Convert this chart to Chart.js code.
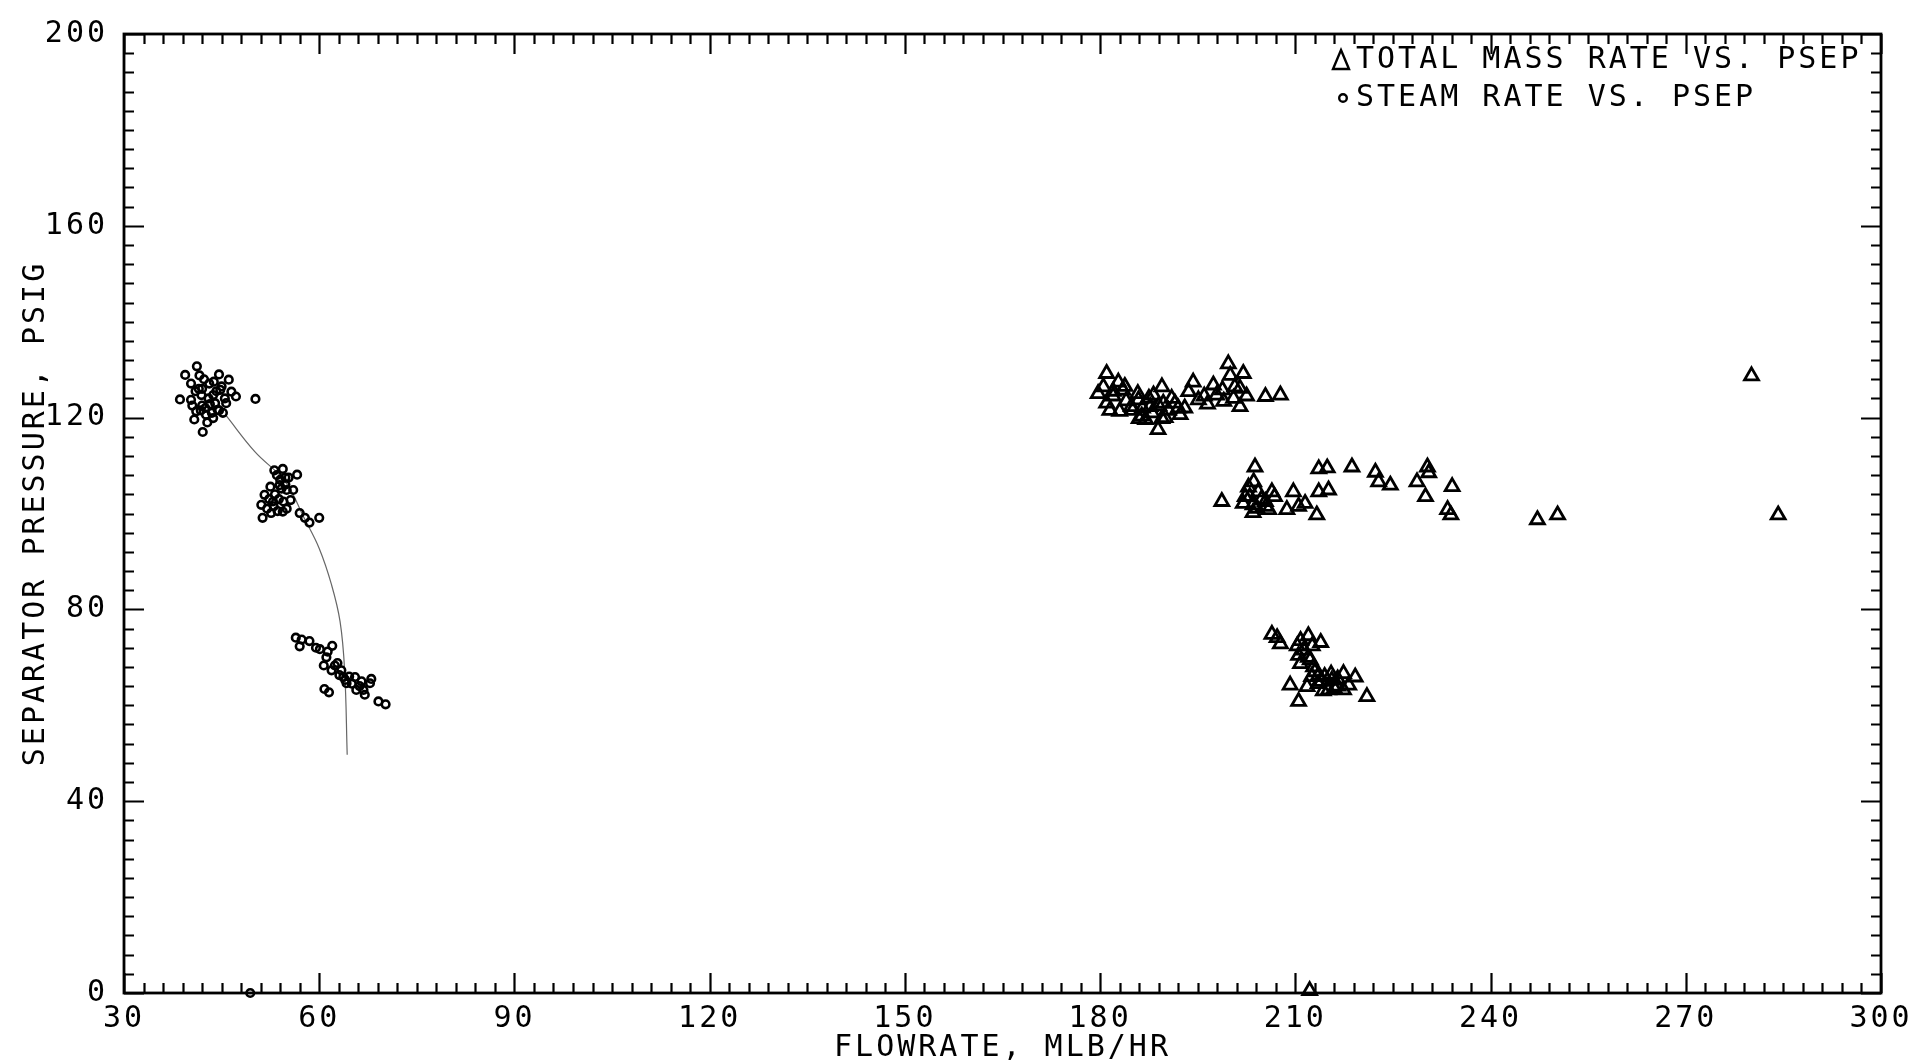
<!DOCTYPE html>
<html>
<head>
<meta charset="utf-8">
<script src="https://cdn.jsdelivr.net/npm/chart.js@4.4.1/dist/chart.umd.min.js"></script>
<style>
  html, body { margin: 0; padding: 0; background: #fff; }
  canvas { display: block; }
</style>
</head>
<body>
<canvas id="chart" width="1930" height="1063"></canvas>
<script>
// steam rate vs. psep (circles)
const steamFlow = [41.2, 39.4, 41.6, 44.6, 46.1, 40.3, 43.1, 38.6, 40.3, 41.9, 43.7, 45.7, 47.2, 46.5, 50.2,
  41.1, 42.6, 40.8, 43.7, 42.1, 44.4, 42.0, 44.8, 45.2, 41.5, 43.2,
  42.5, 43.0, 42.0, 43.5, 44.0, 42.8, 41.8, 44.2, 45.0, 43.8, 42.3, 41.0, 40.5, 45.5, 44.6,
  53.1, 54.4, 56.6, 52.5, 53.9, 55.0, 56.0, 55.6, 51.6, 51.1, 52.9, 54.4, 51.3, 52.6, 57.0, 57.8, 58.5, 60.0, 55.0, 54.8,
  53.5, 54.0, 53.2, 53.8, 54.5, 53.0, 52.0, 54.8, 55.3, 52.3, 53.6, 54.2,
  56.4, 57.0, 58.5, 60.1, 62.0, 61.1, 60.7, 62.4, 61.9, 63.4, 63.7, 64.2, 65.5, 65.7, 66.8, 67.0, 67.8, 68.0, 60.8, 61.5, 69.1, 70.2,
  62.8, 63.1, 64.6, 65.0, 66.2, 66.5, 61.3, 59.5, 57.3, 64.0,
  49.4];
const steamPsep = [130.7, 128.9, 128.8, 129.0, 127.9, 127.1, 127.1, 123.8, 123.7, 124.7, 124.7, 123.0, 124.4, 125.4, 123.9,
  121.3, 120.6, 119.6, 119.9, 117.0, 121.6, 122.5, 125.8, 121.0, 126.0, 122.8,
  122.0, 124.0, 126.0, 121.0, 123.0, 119.0, 121.5, 125.5, 126.5, 127.5, 128.0, 125.5, 122.5, 124.0, 121.5,
  109.0, 109.3, 108.1, 105.6, 105.9, 104.9, 104.9, 102.8, 103.9, 101.8, 102.5, 100.4, 99.1, 100.1, 100.1, 99.1, 98.1, 99.1, 101.0, 107.5,
  108.0, 107.0, 104.0, 103.0, 102.5, 101.5, 101.0, 106.0, 107.5, 103.0, 100.5, 105.2,
  74.1, 72.3, 73.4, 71.7, 72.4, 70.0, 68.3, 68.3, 67.3, 67.3, 65.9, 64.6, 65.9, 63.2, 63.2, 62.2, 64.6, 65.5, 63.4, 62.7, 60.8, 60.2,
  68.8, 66.3, 66.0, 64.5, 64.0, 65.0, 71.2, 72.0, 73.7, 65.3,
  0];

// total mass rate vs. psep (triangles)
const totalFlow = [181.0, 182.8, 180.5, 179.7, 183.5, 181.0, 183.0, 185.9, 186.4, 187.7, 189.5, 189.7, 191.0, 188.9, 192.3,
  192.0, 194.3, 193.6, 195.1, 197.4, 197.9, 199.7, 200.0, 202.0, 200.7, 199.0, 201.5, 201.5, 205.4, 207.7, 184.8, 182.0,
  188.2, 190.0, 187.0,
  182.0, 184.0, 185.0, 186.5, 188.0, 189.0, 190.5, 187.5, 185.8, 183.8, 191.5, 193.0, 181.5, 196.0, 198.8, 200.5, 202.5,
  196.5, 186.0, 189.5,
  203.8, 203.6, 202.3, 204.3, 206.4, 198.7, 202.0, 204.1, 205.9, 203.5, 205.4, 209.7, 208.7, 210.5, 211.5, 213.3, 213.6,
  214.9, 213.6, 215.1, 218.7, 222.3, 222.8, 224.6, 228.7, 230.3, 230.5, 230.0, 234.1, 233.4, 233.9, 247.2, 250.3, 284.2,
  203.0, 204.8, 202.8, 205.5, 206.8, 203.5,
  280.1,
  206.4, 207.2, 207.7, 210.3, 212.0, 213.9, 212.6, 210.5, 212.0, 210.8, 212.8, 213.6, 214.5, 215.6, 217.4, 219.2, 217.4,
  215.1, 214.3, 211.8, 209.2, 210.5, 221.0, 218.2, 216.5,
  211.3, 212.3, 213.0, 214.0, 215.5, 216.5, 213.5, 212.5, 210.8, 216.0,
  212.2];
const totalPsep = [129.2, 127.4, 126.4, 125.0, 125.7, 123.0, 121.3, 123.7, 120.3, 122.3, 126.4, 123.0, 124.0, 117.5, 120.6,
  122.0, 127.4, 125.4, 123.7, 126.8, 124.7, 131.2, 128.8, 129.2, 126.4, 123.4, 122.3, 126.1, 124.4, 124.7, 122.3, 124.5,
  124.7, 120.0, 119.6,
  125.5, 123.5, 121.5, 122.0, 121.0, 122.5, 121.5, 124.0, 125.0, 126.5, 123.0, 122.0, 121.5, 124.5, 125.8, 124.0, 124.5,
  122.8, 119.8, 119.8,
  109.7, 106.6, 103.5, 104.5, 104.5, 102.5, 102.1, 101.1, 100.8, 100.2, 102.5, 104.5, 100.8, 101.5, 102.1, 99.7, 109.3,
  109.5, 104.5, 104.9, 109.7, 108.6, 106.6, 105.9, 106.6, 109.7, 108.5, 103.5, 105.6, 100.8, 99.7, 98.7, 99.7, 99.7,
  103.5, 103.0, 105.5, 101.5, 103.5, 101.8,
  128.7,
  74.8, 74.1, 72.8, 72.4, 74.5, 73.1, 72.4, 70.4, 70.0, 68.7, 68.0, 66.3, 66.0, 65.2, 66.6, 65.9, 63.2,
  63.2, 63.0, 63.9, 64.2, 60.8, 61.8, 64.2, 64.0,
  71.5, 69.5, 67.0, 65.0, 66.5, 65.5, 64.5, 66.0, 73.5, 63.5,
  0.5];

// hand drawn curve through the steam points
const curveFlow = [45.7, 50.1, 54.8, 57.7, 60.0, 61.9, 63.2, 63.9, 64.3];
const curvePsep = [120.4, 112.9, 106.6, 99.0, 92.7, 85.1, 77.5, 67.4, 49.7];

const xTicks = [30, 60, 90, 120, 150, 180, 210, 240, 270, 300];
const yTicks = [0, 40, 80, 120, 160, 200];

const legendLabels = ['TOTAL MASS RATE VS. PSEP', 'STEAM RATE VS. PSEP'];

const FONT = 'DejaVu Sans Mono';

function pts(xs, ys) {
  return xs.map((x, i) => ({ x: x, y: ys[i] }));
}

// box, inward ticks and the legend drawn like the plotter did
const plotterFrame = {
  id: 'plotterFrame',
  beforeDraw(chart) {
    chart.ctx.letterSpacing = '3px';
  },
  afterDraw(chart) {
    const ctx = chart.ctx;
    const a = chart.chartArea;
    const xs = chart.scales.x, ys = chart.scales.y;
    ctx.save();
    ctx.strokeStyle = '#000';
    ctx.lineWidth = 2.2;
    ctx.beginPath();
    for (let v = 30; v <= 300; v += 3) {
      const px = Math.round(xs.getPixelForValue(v)) + 0.5;
      const len = (v % 30 === 0) ? 20 : 10;
      ctx.moveTo(px, a.bottom); ctx.lineTo(px, a.bottom - len);
      ctx.moveTo(px, a.top); ctx.lineTo(px, a.top + len);
    }
    for (let v = 0; v <= 200; v += 4) {
      const py = Math.round(ys.getPixelForValue(v)) + 0.5;
      const len = (v % 40 === 0) ? 20 : 10;
      ctx.moveTo(a.left, py); ctx.lineTo(a.left + len, py);
      ctx.moveTo(a.right, py); ctx.lineTo(a.right - len, py);
    }
    ctx.stroke();
    ctx.lineWidth = 2.8;
    ctx.strokeRect(a.left, a.top, a.right - a.left, a.bottom - a.top);

    // legend
    ctx.font = '30px "' + FONT + '"';
    ctx.letterSpacing = '3px';
    ctx.fillStyle = '#000';
    ctx.textBaseline = 'middle';
    ctx.textAlign = 'left';
    const lx = 1356, ly = [60, 98];
    ctx.fillText(legendLabels[0], lx, ly[0]);
    ctx.fillText(legendLabels[1], lx, ly[1]);
    ctx.lineWidth = 2.4;
    ctx.beginPath();
    ctx.moveTo(1341, ly[0] - 10);
    ctx.lineTo(1349, ly[0] + 9);
    ctx.lineTo(1333, ly[0] + 9);
    ctx.closePath();
    ctx.stroke();
    ctx.beginPath();
    ctx.arc(1343, ly[1], 3.8, 0, Math.PI * 2);
    ctx.stroke();
    ctx.restore();
  }
};

Chart.defaults.color = '#000';
Chart.defaults.font.family = FONT;

new Chart(document.getElementById('chart'), {
  type: 'scatter',
  data: {
    datasets: [
      {
        label: legendLabels[0],
        data: pts(totalFlow, totalPsep),
        pointStyle: 'triangle',
        pointRadius: 8,
        borderWidth: 2.8,
        borderColor: '#000',
        backgroundColor: 'rgba(0,0,0,0)',
        clip: false
      },
      {
        label: legendLabels[1],
        data: pts(steamFlow, steamPsep),
        pointStyle: 'circle',
        pointRadius: 3.8,
        borderWidth: 2.6,
        borderColor: '#000',
        backgroundColor: 'rgba(0,0,0,0)',
        clip: false
      },
      {
        label: 'curve',
        data: pts(curveFlow, curvePsep),
        showLine: true,
        pointRadius: 0,
        borderWidth: 1.2,
        borderColor: '#666',
        tension: 0.4,
        fill: false
      }
    ]
  },
  plugins: [plotterFrame],
  options: {
    responsive: false,
    animation: false,
    events: [],
    layout: { padding: { top: 18, right: 49, left: 0, bottom: 0 } },
    plugins: {
      legend: { display: false },
      tooltip: { enabled: false }
    },
    scales: {
      x: {
        type: 'linear',
        min: 30,
        max: 300,
        afterBuildTicks: (s) => { s.ticks = xTicks.map(v => ({ value: v })); },
        afterFit: (s) => { s.height = 70; },
        grid: { display: false, drawTicks: false },
        border: { display: false },
        ticks: { font: { size: 30 }, padding: 8, maxRotation: 0, autoSkip: false },
        title: {
          display: true,
          text: 'FLOWRATE, MLB/HR',
          font: { size: 30 },
          padding: { top: 0, bottom: -3 }
        }
      },
      y: {
        type: 'linear',
        min: 0,
        max: 200,
        afterBuildTicks: (s) => { s.ticks = yTicks.map(v => ({ value: v })); },
        afterFit: (s) => { s.width = 124; },
        grid: { display: false, drawTicks: false },
        border: { display: false },
        ticks: { font: { size: 30 }, padding: 16, autoSkip: false },
        title: {
          display: true,
          text: 'SEPARATOR PRESSURE, PSIG',
          font: { size: 30 },
          padding: { top: 18, bottom: 0 }
        }
      }
    }
  }
});
</script>
</body>
</html>
